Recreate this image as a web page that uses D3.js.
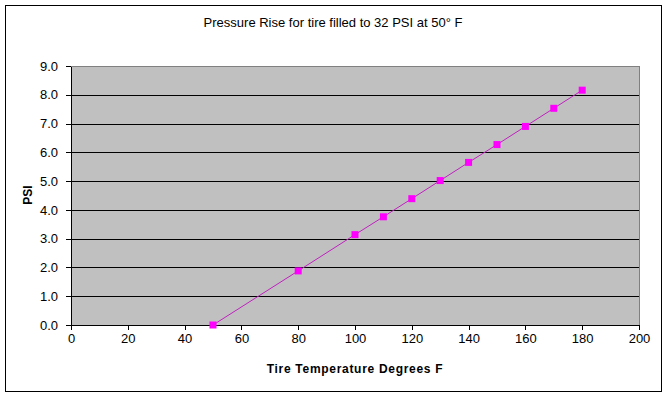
<!DOCTYPE html>
<meta charset="utf-8">
<style>
  body { margin: 0; background: #fff; }
  svg { display: block; font-family: "Liberation Sans", Arial, sans-serif; }
  .axis text { font-size: 13px; fill: #000; }
  .axis path, .axis line { stroke: #000; shape-rendering: crispEdges; }
</style>
<body>
<script src="https://cdn.jsdelivr.net/npm/d3@7"></script>
<script>
  var temps = [50, 80, 100, 110, 120, 130, 140, 150, 160, 170, 180];
  var psi = [0.0, 1.88, 3.14, 3.76, 4.39, 5.02, 5.65, 6.27, 6.90, 7.53, 8.16];
  var xTicks = [0, 20, 40, 60, 80, 100, 120, 140, 160, 180, 200];
  var yTicks = [0, 1, 2, 3, 4, 5, 6, 7, 8, 9];

  var width = 669, height = 399;
  var plot = {left: 71, right: 639, top: 66, bottom: 325};

  var svg = d3.select("body").append("svg")
    .attr("width", width)
    .attr("height", height);

  // outer chart border
  svg.append("rect")
    .attr("x", 5.5).attr("y", 5.5)
    .attr("width", 656).attr("height", 386)
    .style("fill", "#fff").style("stroke", "#000")
    .style("shape-rendering", "crispEdges");

  var x = d3.scaleLinear().domain([0, 200]).range([plot.left, plot.right]);
  var y = d3.scaleLinear().domain([0, 9]).range([plot.bottom, plot.top]);

  svg.append("rect")
    .attr("x", plot.left).attr("y", plot.top)
    .attr("width", plot.right - plot.left).attr("height", plot.bottom - plot.top)
    .style("fill", "#c0c0c0").style("stroke", "#808080")
    .style("shape-rendering", "crispEdges");

  // gridlines
  svg.append("g").selectAll("line")
    .data(yTicks.filter(function(d) { return d > 0 && d < 9; }))
    .enter().append("line")
    .attr("x1", plot.left).attr("x2", plot.right)
    .attr("y1", function(d) { return Math.round(y(d)) + 0.5; })
    .attr("y2", function(d) { return Math.round(y(d)) + 0.5; })
    .style("stroke", "#000");

  svg.append("g")
    .attr("class", "axis")
    .attr("transform", "translate(0," + plot.bottom + ")")
    .call(d3.axisBottom(x).tickValues(xTicks).tickSize(5).tickSizeOuter(0).tickPadding(4)
      .tickFormat(d3.format("d")));

  svg.append("g")
    .attr("class", "axis")
    .attr("transform", "translate(" + plot.left + ",0)")
    .call(d3.axisLeft(y).tickValues(yTicks).tickSize(5).tickSizeOuter(0).tickPadding(8)
      .tickFormat(d3.format(".1f")));

  var pts = temps.map(function(t, i) { return [t, psi[i]]; });

  svg.append("path")
    .datum(pts)
    .attr("d", d3.line().x(function(d) { return x(d[0]); }).y(function(d) { return y(d[1]); }))
    .style("fill", "none").style("stroke", "#c020c0").style("stroke-width", 1);

  svg.append("g").selectAll("rect")
    .data(pts)
    .enter().append("rect")
    .attr("x", function(d) { return x(d[0]) - 3.5; })
    .attr("y", function(d) { return y(d[1]) - 3.5; })
    .attr("width", 7).attr("height", 7)
    .style("fill", "#ff00ff");

  svg.append("text")
    .attr("x", 333).attr("y", 27)
    .attr("text-anchor", "middle")
    .style("font-size", "13px")
    .text("Pressure Rise for tire filled to 32 PSI at 50° F");

  svg.append("text")
    .attr("x", 355).attr("y", 373)
    .attr("text-anchor", "middle")
    .style("font-size", "12px").style("font-weight", "bold").style("letter-spacing", "0.7px")
    .text("Tire Temperature Degrees F");

  svg.append("text")
    .attr("transform", "translate(32,195) rotate(-90)")
    .attr("text-anchor", "middle")
    .style("font-size", "12px").style("font-weight", "bold")
    .text("PSI");
</script>
</body>
